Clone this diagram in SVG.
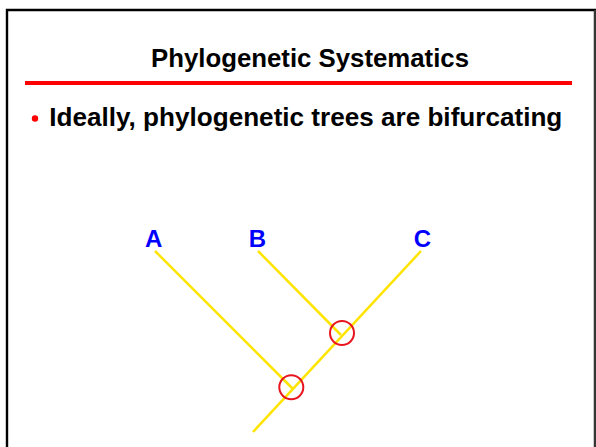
<svg xmlns="http://www.w3.org/2000/svg" width="596" height="447" viewBox="0 0 596 447">
<style>
.t{font-family:"Liberation Sans",Arial,sans-serif;font-weight:bold;}
.title{font-size:25px;fill:#000;}
.lbl{font-size:24px;fill:#0000FF;text-anchor:middle;}
.branch{stroke:#FFE400;stroke-width:2.5;fill:none;stroke-linecap:butt;}
.node{stroke:#E8141E;stroke-width:2;fill:none;}
</style>
<rect x="0" y="0" width="596" height="447" fill="#fff"/>
<g id="frame">
<path d="M7,450 V10 H595 V450" fill="none" stroke="#000" stroke-width="2.4"/>
<line x1="595" y1="10" x2="595" y2="450" stroke="#444" stroke-width="1.6"/>
</g>
<g id="header">
<text class="t title" x="151" y="66.7" textLength="318" lengthAdjust="spacingAndGlyphs">Phylogenetic Systematics</text>
<rect x="25" y="81" width="547" height="4" fill="#FF0000"/>
</g>
<g id="bullet">
<circle cx="35" cy="118.5" r="3.2" fill="#FF0000"/>
<text class="t title" x="49.3" y="126" textLength="513" lengthAdjust="spacingAndGlyphs">Ideally, phylogenetic trees are bifurcating</text>
</g>
<g id="connectors">
<line class="branch" x1="155" y1="251" x2="292.5" y2="388.5"/>
<line class="branch" x1="258" y1="251" x2="341" y2="335"/>
<line class="branch" x1="421" y1="251" x2="253" y2="432"/>
</g>
<g id="A"><text class="t lbl" x="153.7" y="246.7">A</text></g>
<g id="B"><text class="t lbl" x="257.5" y="246.7">B</text></g>
<g id="C"><text class="t lbl" x="422.5" y="246.7">C</text></g>
<g id="node1"><circle class="node" cx="342" cy="333" r="12"/></g>
<g id="node2"><circle class="node" cx="291.3" cy="387.3" r="12"/></g>
</svg>
